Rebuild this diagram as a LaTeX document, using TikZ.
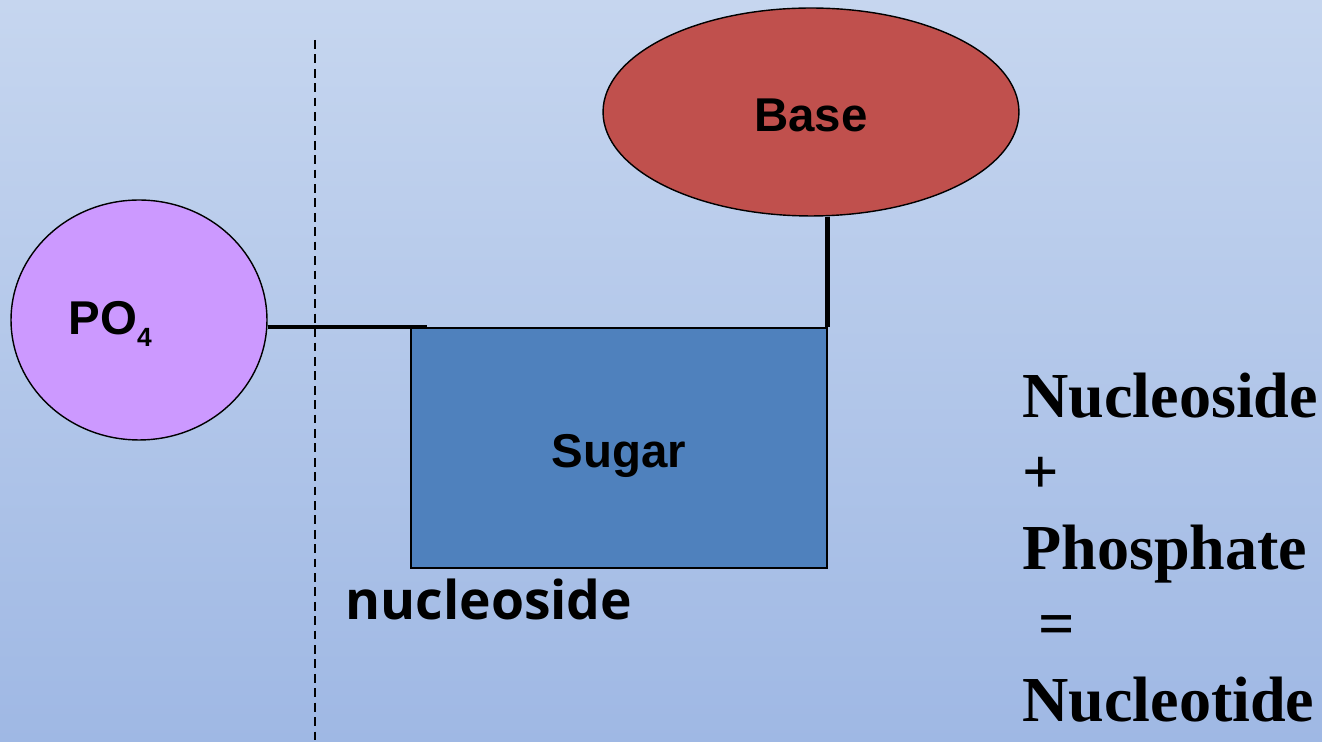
\documentclass[tikz,border=0pt]{standalone}
\usepackage{fontspec}
\setmainfont{Liberation Serif}
\newfontfamily\partfont{Liberation Sans}
\newfontfamily\namefont{Open Sans}
\usetikzlibrary{shapes.geometric}
\definecolor{bgtop}{HTML}{C6D6EF}
\definecolor{bgbottom}{HTML}{9FB8E4}
\definecolor{phosphate}{HTML}{CC99FF}
\definecolor{basered}{HTML}{C0504D}
\definecolor{sugarblue}{HTML}{4F81BD}
\tikzset{
  part/.style={draw=black, line width=0.8pt, inner sep=0pt, font=\partfont\bfseries\fontsize{27}{30}\selectfont},
  bond/.style={line width=2.8pt},
  eqline/.style={anchor=base west, inner sep=0pt, font=\bfseries\fontsize{36.5}{40}\selectfont}
}
\begin{document}
\begin{tikzpicture}[x=0.02cm, y=-0.02cm]
	\shade [top color=bgtop, bottom color=bgbottom] (0,0) rectangle (1322,742);
	\useasboundingbox (0,0) rectangle (1322,742);
	\draw [line width=0.8pt, dash pattern=on 5pt off 3.2pt] (315,40) -- (315,742);
	\node [part, ellipse, fill=phosphate, minimum width=5.12cm, minimum height=4.8cm] (phos) at (139,320) {};
	\node [part, ellipse, fill=basered, minimum width=8.32cm, minimum height=4.16cm] (base) at (811,112) {};
	\node [part, rectangle, fill=sugarblue, minimum width=8.32cm, minimum height=4.8cm] (sugar) at (619,448) {};
	\node [part, draw=none, anchor=base] (basetext) at (811,132) {Base};
	\node [part, draw=none, anchor=base] (sugartext) at (619,468) {Sugar};
	\node [part, draw=none, anchor=base west] (phostext) at (68,335) {PO\raisebox{-6.8pt}{\fontsize{15}{15}\selectfont 4}};
	\coordinate (joint) at (427,327);
	\draw [bond] (joint -| phos.east) -- (joint);
	\draw [bond] (base.south -| sugar.north east) -- (sugar.north east);
	\node [anchor=base, inner sep=0pt, font=\namefont\bfseries\fontsize{30.4}{34}\selectfont] (label) at (489,620) {nucleoside};
	\node [eqline] (eqa) at (1022,418) {Nucleoside};
	\node [eqline] (eqb) at (1022,494) {+};
	\node [eqline] (eqc) at (1022,570) {Phosphate};
	\node [eqline] (eqd) at (1022,646) {\ =};
	\node [eqline] (eqe) at (1022,722) {Nucleotide};
\end{tikzpicture}
\end{document}
